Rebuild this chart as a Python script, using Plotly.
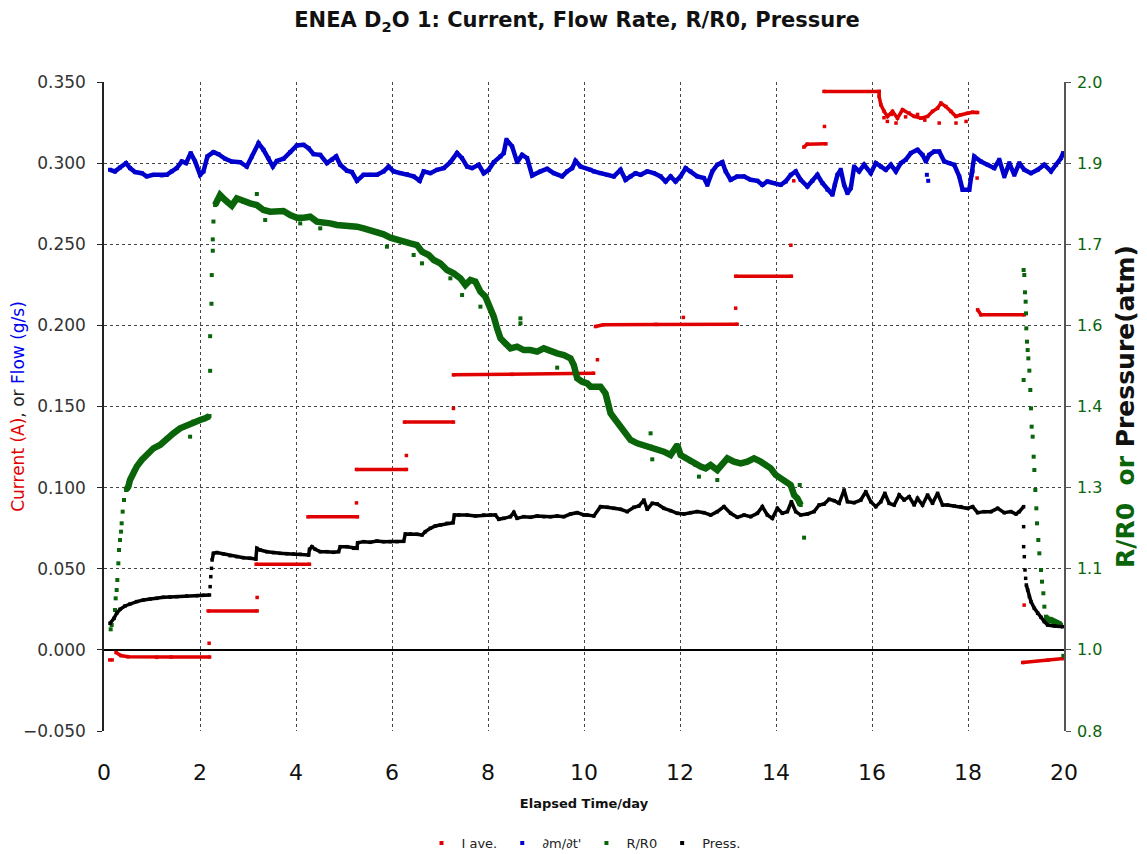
import plotly.graph_objects as go

# ---------------- data ----------------
# I ave. (A): step segments, None separates segments
iave_x = [0.25, 0.35, 0.5, 1.1, 1.4, 2.2, None,
          2.17, 3.19, None,
          3.17, 4.28, None,
          4.25, 5.28, None,
          5.26, 6.30, None,
          6.26, 7.28, None,
          7.28, 8.5, 10.2, None,
          10.24, 10.4, 11.5, 13.19, None,
          13.16, 14.32, None,
          14.58, 14.65, 15.04, None,
          15.00, 16.149, 16.149, 16.184, 16.253, 16.323, 16.427, 16.531, 16.636, 16.775,
          16.879, 17.018, 17.157, 17.261, 17.366, 17.435, 17.539, 17.644, 17.748,
          17.852, 17.991, 18.096, 18.20, None,
          18.20, 18.27, 19.17, None,
          19.14, 19.66, 19.99]
iave_y = [-0.0016, -0.0035, -0.0042, -0.0046, -0.0044, -0.0044, None,
          0.0240, 0.0240, None,
          0.0528, 0.0528, None,
          0.0820, 0.0820, None,
          0.1112, 0.1112, None,
          0.1404, 0.1404, None,
          0.1695, 0.1698, 0.1705, None,
          0.1993, 0.2004, 0.2006, 0.2007, None,
          0.2303, 0.2303, None,
          0.3099, 0.3117, 0.3119, None,
          0.3442, 0.3442, 0.3411, 0.3360, 0.3319, 0.3288, 0.3319, 0.3277, 0.3329, 0.3308,
          0.3288, 0.3277, 0.3288, 0.3319, 0.3339, 0.3370, 0.3349, 0.3319, 0.3288,
          0.3298, 0.3308, 0.3314, 0.3312, None,
          0.2096, 0.2065, 0.2065, None,
          -0.0078, -0.0064, -0.0053]
iave_pts_x = [0.12, 0.17, 2.19, 3.19, 5.26, 6.30, 7.28, 10.28, 12.07, 13.16, 14.31,
              14.37, 15.01, 16.25, 16.32, 16.40, 16.50, 16.70, 16.95, 17.10, 17.40,
              17.75, 17.96, 18.19, 19.17]
iave_pts_y = [-0.0062, -0.0062, 0.0041, 0.0323, 0.0906, 0.1198, 0.1488, 0.1788, 0.2049,
              0.2106, 0.2494, 0.2891, 0.3226, 0.3280, 0.3257, 0.3300, 0.3247, 0.3285,
              0.3300, 0.3265, 0.3247, 0.3247, 0.3257, 0.2908, 0.0276]

# dm/dt' flow (g/s)
flow_x = [0.125, 0.229, 0.334, 0.459, 0.542, 0.647, 0.786, 0.890, 1.029, 1.203, 1.307,
          1.411, 1.516, 1.620, 1.710, 1.807, 1.898, 2.002, 2.072, 2.155, 2.280, 2.385,
          2.524, 2.663, 2.836, 2.975, 3.080, 3.219, 3.323, 3.427, 3.518, 3.601, 3.740,
          3.880, 4.018, 4.157, 4.262, 4.366, 4.505, 4.644, 4.748, 4.838, 4.922, 5.061,
          5.165, 5.269, 5.408, 5.547, 5.686, 5.825, 5.930, 6.034, 6.173, 6.312, 6.451,
          6.576, 6.660, 6.799, 6.938, 7.077, 7.216, 7.355, 7.459, 7.564, 7.668, 7.807,
          7.911, 8.015, 8.120, 8.259, 8.328, 8.384, 8.502, 8.606, 8.711, 8.815, 8.919,
          9.093, 9.232, 9.371, 9.545, 9.649, 9.754, 9.823, 9.928, 10.136,
          10.205, 10.344, 10.483, 10.622, 10.761, 10.866, 10.970, 11.074, 11.178,
          11.317, 11.456, 11.596, 11.700, 11.804, 11.908, 12.013, 12.117, 12.221,
          12.360, 12.499, 12.569, 12.673, 12.777, 12.882, 12.951, 13.055, 13.194,
          13.334, 13.473, 13.612, 13.716, 13.820, 13.959, 14.098, 14.203, 14.307,
          14.411, 14.515, 14.654, 14.759, 14.863, 14.967, 15.071, 15.176, 15.225,
          15.280, 15.349, 15.419, 15.488, 15.558, 15.628, 15.732, 15.836, 15.975,
          16.079, 16.184, 16.288, 16.392, 16.497, 16.601, 16.705, 16.809, 16.948,
          17.053, 17.122, 17.192, 17.296, 17.400, 17.505, 17.609, 17.713, 17.818,
          17.887, 18.026, 18.096, 18.130, 18.270, 18.409, 18.548, 18.652, 18.756,
          18.861, 18.965, 19.069, 19.173, 19.312, 19.451, 19.590, 19.730, 19.834,
          19.938, 19.98]
flow_y = [0.2959, 0.2949, 0.2973, 0.3000, 0.2969, 0.2945, 0.2938, 0.2918, 0.2928, 0.2924,
          0.2928, 0.2949, 0.2969, 0.3010, 0.3000, 0.3062, 0.3010, 0.2928, 0.2949, 0.3041,
          0.3068, 0.3055, 0.3027, 0.3010, 0.3006, 0.2979, 0.3041, 0.3123, 0.3082, 0.3031,
          0.2979, 0.3014, 0.3027, 0.3068, 0.3109, 0.3113, 0.3092, 0.3055, 0.3051, 0.3000,
          0.3021, 0.3041, 0.2990, 0.2953, 0.2945, 0.2891, 0.2928, 0.2928, 0.2928, 0.2949,
          0.2979, 0.2949, 0.2938, 0.2932, 0.2918, 0.2891, 0.2949, 0.2938, 0.2959, 0.2969,
          0.3006, 0.3062, 0.3031, 0.2979, 0.2969, 0.2990, 0.2938, 0.2959, 0.3006, 0.3041,
          0.3062, 0.3144, 0.3103, 0.3006, 0.3051, 0.3031, 0.2924, 0.2949, 0.2965, 0.2938,
          0.2918, 0.2949, 0.2969, 0.3014, 0.2979, 0.2959,
          0.2949, 0.2938, 0.2928, 0.2918, 0.2959, 0.2897, 0.2918, 0.2938, 0.2928,
          0.2949, 0.2938, 0.2918, 0.2887, 0.2918, 0.2887, 0.2918, 0.2969, 0.2949,
          0.2918, 0.2908, 0.2866, 0.2949, 0.2990, 0.3006, 0.2949, 0.2897, 0.2918,
          0.2918, 0.2897, 0.2891, 0.2866, 0.2887, 0.2877, 0.2866, 0.2887, 0.2928,
          0.2949, 0.2897, 0.2856, 0.2891, 0.2928, 0.2877, 0.2836, 0.2805, 0.2866,
          0.2928, 0.2959, 0.2866, 0.2815, 0.2846, 0.2979, 0.2949, 0.2990, 0.2938,
          0.3000, 0.2979, 0.2959, 0.2990, 0.2949, 0.3000, 0.3021, 0.3062, 0.3082,
          0.3051, 0.3010, 0.3051, 0.3072, 0.3072, 0.3010, 0.3000, 0.2990, 0.2918,
          0.2836, 0.2836, 0.2949, 0.3041, 0.3010, 0.2990, 0.2969, 0.3021, 0.2918,
          0.3000, 0.2928, 0.3000, 0.2959, 0.2938, 0.2959, 0.2990, 0.2949, 0.2990,
          0.3031, 0.3062]
flow_pts_x = [17.143, 17.171, 18.075]
flow_pts_y = [0.2928, 0.2891, 0.2928]

# R/R0 (right axis)
rr_x = [0.459, 0.507, 0.542, 0.612, 0.681, 0.786, 0.890, 1.029, 1.168, 1.307, 1.446,
        1.585, 1.724, 1.863, 2.002, 2.106, 2.197, None,
        2.315, 2.350, 2.419, 2.524, 2.663, 2.767, 2.906, 3.045, 3.184, 3.323, 3.462,
        3.601, 3.740, 3.879, 4.018, 4.157, 4.296, 4.435, 4.574, 4.713, 4.853, 4.992,
        5.131, 5.270, 5.409, 5.548, 5.687, 5.826, 5.965, 6.104, 6.243, 6.382, 6.521,
        6.625, 6.764, 6.869, 7.008, 7.147, 7.286, 7.425, 7.529, 7.633, 7.738, 7.842,
        7.946, 8.051, 8.120, 8.189, 8.259, 8.363, 8.468, 8.606, 8.746, 8.885, 9.024,
        9.163, 9.302, 9.441, 9.580, 9.719, 9.788, 9.858, 9.962, 10.067,
        10.136, 10.344, 10.448, 10.518, 10.553, 10.657, 10.761, 10.866, 10.970,
        11.109, 11.248, 11.387, 11.526, 11.665, 11.804, 11.943, 12.013, 12.117,
        12.221, 12.325, 12.430, 12.534, 12.638, 12.777, 12.847, 12.986, 13.125,
        13.264, 13.403, 13.542, 13.681, 13.785, 13.890, 13.994, 14.098, 14.203,
        14.307, 14.376, 14.446, 14.515, None,
        19.625, 19.660, 19.730, 19.799, 19.869, 19.938]
rr_y = [1.2456, 1.2518, 1.2641, 1.2795, 1.2888, 1.3011, 1.3103, 1.3227, 1.3288, 1.3411,
        1.3504, 1.3596, 1.3658, 1.3720, 1.3750, 1.3781, 1.3824, None,
        1.7725, 1.7818, 1.7910, 1.7818, 1.7713, 1.7849, 1.7787, 1.7756, 1.7725, 1.7633,
        1.7602, 1.7602, 1.7614, 1.7541, 1.7491, 1.7491, 1.7510, 1.7417, 1.7386, 1.7386,
        1.7356, 1.7343, 1.7356, 1.7325, 1.7294, 1.7263, 1.7232, 1.7183, 1.7121, 1.7078,
        1.7047, 1.7017, 1.6986, 1.6863, 1.6801, 1.6709, 1.6647, 1.6524, 1.6462, 1.6370,
        1.6246, 1.6339, 1.6308, 1.6123, 1.6031, 1.5815, 1.5661, 1.5445, 1.5260, 1.5168,
        1.5075, 1.5106, 1.5044, 1.5044, 1.5014, 1.5075, 1.5014, 1.4983, 1.4952, 1.4891,
        1.4767, 1.4521, 1.4459, 1.4428,
        1.4367, 1.4367, 1.4243, 1.4059, 1.3874, 1.3750, 1.3627, 1.3504, 1.3381,
        1.3319, 1.3288, 1.3257, 1.3196, 1.3165, 1.3103, 1.3288, 1.3103, 1.3042,
        1.2980, 1.2918, 1.2888, 1.2857, 1.2918, 1.2826, 1.2888, 1.3042, 1.2980,
        1.2949, 1.2980, 1.3042, 1.2980, 1.2918, 1.2857, 1.2734, 1.2672, 1.2610,
        1.2549, 1.2364, 1.2302, 1.2179, None,
        1.0114, 1.0053, 1.0053, 1.0022, 0.9991, 0.9960]
rr_pts_x = [0.139, 0.160, 0.229, 0.243, 0.264, 0.278, 0.299, 0.313, 0.334, 0.355, 0.368,
            0.389, 0.417, 1.794,
            2.211, 2.211, 2.239, 2.245, 2.266, 2.266, 2.280,
            3.184, 3.358, 4.088, 4.505, 5.895, 6.451, 6.625, 7.216, 7.460, 7.842,
            8.676, 8.676, 9.441, 11.387, 11.422, 12.395, 12.777, 14.494, 14.585,
            19.159, 19.173, 19.187, 19.201, 19.208, 19.215, 19.229, 19.243, 19.257,
            19.278, 19.159, 19.298, 19.312, 19.326, 19.347, 19.368, 19.382, 19.403,
            19.424, 19.438, 19.465, 19.486, 19.521, 19.542, 19.570, 19.591, 19.986]
rr_pts_y = [0.988, 0.996, 1.0237, 1.0453, 1.0607, 1.0792, 1.1100, 1.1347, 1.1532, 1.1686,
            1.1840, 1.2056, 1.2271, 1.3442,
            1.466, 1.530, 1.590, 1.643, 1.688, 1.709, 1.742,
            1.7929, 1.7448, 1.7386, 1.7294, 1.6955, 1.6801, 1.6647, 1.6370, 1.6061,
            1.5846, 1.5630, 1.5538, 1.4718, 1.3504, 1.3023, 1.2703, 1.2641, 1.2549,
            1.1575,
            1.6524, 1.6431, 1.6111, 1.5938, 1.5722, 1.5445, 1.5199, 1.5044, 1.4890,
            1.4663, 1.4490, 1.4305, 1.3966, 1.3627, 1.3442, 1.3072, 1.2826, 1.2456,
            1.2117, 1.1840, 1.1532, 1.1285, 1.0977, 1.0761, 1.0546, 1.0299, 0.939]

# Pressure (atm, right axis)
press_x = [0.125, 0.209, 0.264, 0.334, 0.438, 0.542, 0.681, 0.820, 0.959, 1.098, 1.237,
           1.376, 1.516, 1.724, 1.933, 2.072, 2.197, None,
           2.252, 2.280, 2.350, 2.489, 2.628, 2.767, 2.906, 3.045, 3.163, 3.184, 3.254,
           3.393, 3.532, 3.671, 3.810, 3.949, 4.088, 4.262, 4.282, 4.331, 4.401, 4.505,
           4.644, 4.783, 4.887, 4.922, 5.061, 5.200, 5.270, 5.284, 5.409, 5.548, 5.687,
           5.826, 5.965, 6.104, 6.243, 6.278, 6.382, 6.521, 6.625, 6.695, 6.799, 6.903,
           7.008, 7.147, 7.272, 7.300, 7.390, 7.564, 7.738, 7.911, 8.050, 8.155, 8.224,
           8.328, 8.467, 8.537, 8.606, 8.746, 8.885, 9.024, 9.163, 9.302, 9.441, 9.580,
           9.719, 9.858, 9.997,
           10.066, 10.205, 10.344, 10.483, 10.622, 10.761, 10.900, 11.039, 11.144,
           11.248, 11.317, 11.422, 11.526, 11.665, 11.804, 11.943, 12.082, 12.221,
           12.360, 12.499, 12.638, 12.777, 12.916, 13.055, 13.194, 13.334, 13.473,
           13.612, 13.716, 13.820, 13.924, 14.029, 14.133, 14.237, 14.321, 14.411,
           14.515, 14.654, 14.793, 14.898, 15.002, 15.106, 15.211, 15.315, 15.419,
           15.489, 15.628, 15.767, 15.871, 15.975, 16.079, 16.184, 16.267, 16.357,
           16.462, 16.566, 16.670, 16.775, 16.879, 16.948, 17.053, 17.157, 17.261,
           17.366, 17.470, 17.574, 17.713, 17.852, 17.991, 18.096, 18.200, 18.339,
           18.478, 18.617, 18.756, 18.895, 19.000, 19.069, 19.159, None,
           19.215, 19.243, 19.278, 19.312, 19.382, 19.451, 19.521, 19.590, 19.660,
           19.799, 19.973]
press_y = [0.9991, 1.0083, 1.0176, 1.0250, 1.0312, 1.0349, 1.0392, 1.0422, 1.0441, 1.0453,
           1.0472, 1.0478, 1.0484, 1.0496, 1.0502, 1.0509, 1.0515, None,
           1.1162, 1.1285, 1.1298, 1.1273, 1.1242, 1.1224, 1.1205, 1.1193, 1.1180, 1.1378,
           1.1347, 1.1316, 1.1298, 1.1285, 1.1279, 1.1273, 1.1267, 1.1254, 1.1359, 1.1408,
           1.1359, 1.1316, 1.1316, 1.1304, 1.1316, 1.1408, 1.1408, 1.1378, 1.1378, 1.1482,
           1.1501, 1.1489, 1.1513, 1.1501, 1.1501, 1.1501, 1.1507, 1.1643, 1.1643, 1.1637,
           1.1624, 1.1686, 1.1748, 1.1791, 1.1809, 1.1840, 1.1852, 1.1994, 1.1994, 1.1994,
           1.1976, 1.1994, 1.1994, 1.1994, 1.1914, 1.1932, 1.1963, 1.2043, 1.1932, 1.1963,
           1.1951, 1.1976, 1.1963, 1.1963, 1.1976, 1.1963, 1.2012, 1.2037, 1.1994,
           1.1994, 1.1976, 1.2148, 1.2136, 1.2117, 1.2099, 1.2056, 1.2136, 1.2160,
           1.2271, 1.2099, 1.2210, 1.2197, 1.2117, 1.2074, 1.2025, 1.2012, 1.2037,
           1.2056, 1.2037, 1.1994, 1.2056, 1.2148, 1.2025, 1.1951, 1.1994, 1.1963,
           1.2025, 1.2148, 1.1994, 1.1932, 1.2117, 1.2025, 1.2056, 1.2240, 1.2056,
           1.1994, 1.2012, 1.2056, 1.2179, 1.2197, 1.2284, 1.2259, 1.2210, 1.2456,
           1.2240, 1.2222, 1.2271, 1.2425, 1.2240, 1.2148, 1.2240, 1.2395, 1.2210,
           1.2179, 1.2364, 1.2271, 1.2333, 1.2179, 1.2302, 1.2179, 1.2364, 1.2210,
           1.2395, 1.2179, 1.2179, 1.2160, 1.2148, 1.2117, 1.2148, 1.2037, 1.2056,
           1.2056, 1.2117, 1.2037, 1.2056, 1.2012, 1.2056, 1.2148, None,
           1.0700, 1.0607, 1.0484, 1.0392, 1.0268, 1.0176, 1.0102, 1.0022, 0.9960,
           0.9942, 0.9929]
press_pts_x = [2.211, 2.225, 2.239, 19.159, 19.159, 19.173, 19.187, 19.201]
press_pts_y = [1.0669, 1.0854, 1.1008, 1.1778, 1.1408, 1.1223, 1.0977, 1.0823]

x_ticks = [0, 2, 4, 6, 8, 10, 12, 14, 16, 18, 20]
left_tickvals = [-0.05, 0, 0.05, 0.1, 0.15, 0.2, 0.25, 0.3, 0.35]
right_tickvals = [0.8, 0.95, 1.1, 1.25, 1.4, 1.55, 1.7, 1.85, 2.0]
right_ticktext = ['0.8', '1.0', '1.1', '1.3', '1.4', '1.6', '1.7', '1.9', '2.0']

RED = '#e00000'
BLUE = '#0000cc'
GREEN = '#0a650a'
BLACK = '#000000'

fig = go.Figure()


def add_series(xs, ys, pxs, pys, color, lw, ms, yaxis):
    fig.add_trace(go.Scatter(x=xs, y=ys, mode='lines+markers', yaxis=yaxis,
                             line=dict(color=color, width=lw),
                             marker=dict(symbol='square', size=ms, color=color),
                             connectgaps=False, showlegend=False, hoverinfo='skip'))
    fig.add_trace(go.Scatter(x=pxs, y=pys, mode='markers', yaxis=yaxis,
                             marker=dict(symbol='square', size=ms, color=color),
                             showlegend=False, hoverinfo='skip'))


add_series(iave_x, iave_y, iave_pts_x, iave_pts_y, RED, 3.5, 3.5, 'y')
add_series(flow_x, flow_y, flow_pts_x, flow_pts_y, BLUE, 4.5, 4, 'y')
add_series(rr_x, rr_y, rr_pts_x, rr_pts_y, GREEN, 6.5, 4, 'y2')
add_series(press_x, press_y, press_pts_x, press_pts_y, BLACK, 3.5, 3.5, 'y2')

for name, color in [('I ave.', RED), ("∂m/∂t'", BLUE), ('R/R0', GREEN), ('Press.', BLACK)]:
    fig.add_trace(go.Scatter(x=[None], y=[None], mode='markers', name=name,
                             marker=dict(symbol='square', size=4, color=color)))

grid = dict(showgrid=True, gridcolor='#444', griddash='dot', gridwidth=1)

# the page body adds an 8px offset; the figure is sized so it fills the window exactly
fig.update_layout(
    width=1139, height=846,
    margin=dict(l=96, r=83, t=74, b=123),
    paper_bgcolor='white', plot_bgcolor='white',
    font=dict(family='DejaVu Sans', size=13, color='#222'),
    title=dict(text='<b>ENEA D<sub>2</sub>O 1: Current, Flow Rate, R/R0, Pressure</b>',
               xref='container', x=0.4996, xanchor='center',
               yref='container', y=0.986, yanchor='middle',
               font=dict(size=21, color='#111')),
    xaxis=dict(range=[0, 20], tickvals=x_ticks, showline=False, zeroline=False,
               ticks='', tickfont=dict(size=22, color='#111'), ticklabelstandoff=26,
               automargin=False,
               title=dict(text='<b>Elapsed Time/day</b>', font=dict(size=13, color='#111'),
                          standoff=14),
               **grid),
    yaxis=dict(range=[-0.05, 0.35], tickvals=left_tickvals,
               tickformat='.3f', showline=True, linecolor='#222', linewidth=1.5,
               ticks='outside', ticklen=5, tickcolor='#222', ticklabelstandoff=8,
               zeroline=True, zerolinecolor='#000', zerolinewidth=1.5,
               tickfont=dict(size=17, color='#333'), automargin=False,
               title=dict(text="<span style='color:#e00000'>Current (A)</span>, or "
                               "<span style='color:#0000ee'>Flow (g/s)</span>",
                          font=dict(size=17), standoff=6),
               **grid),
    yaxis2=dict(overlaying='y', side='right', range=[0.8, 2.0],
                tickvals=right_tickvals, ticktext=right_ticktext,
                showline=True, linecolor='#555', linewidth=1.5,
                ticks='outside', ticklen=5, tickcolor='#555', ticklabelstandoff=3,
                showgrid=False, zeroline=False, automargin=False,
                tickfont=dict(size=16, color=GREEN),
                title=dict(text="<b><span style='color:#0a650a'>R/R0&nbsp;&nbsp;or</span> Pressure(atm)</b>",
                           font=dict(size=25, color='#111'), standoff=15)),
    legend=dict(orientation='h', xref='container', x=0.5057, xanchor='center',
                yref='container', y=0.013, yanchor='middle',
                font=dict(size=13, color='#222'), itemwidth=30, bgcolor='rgba(0,0,0,0)'),
)

fig.write_html('out.html')
